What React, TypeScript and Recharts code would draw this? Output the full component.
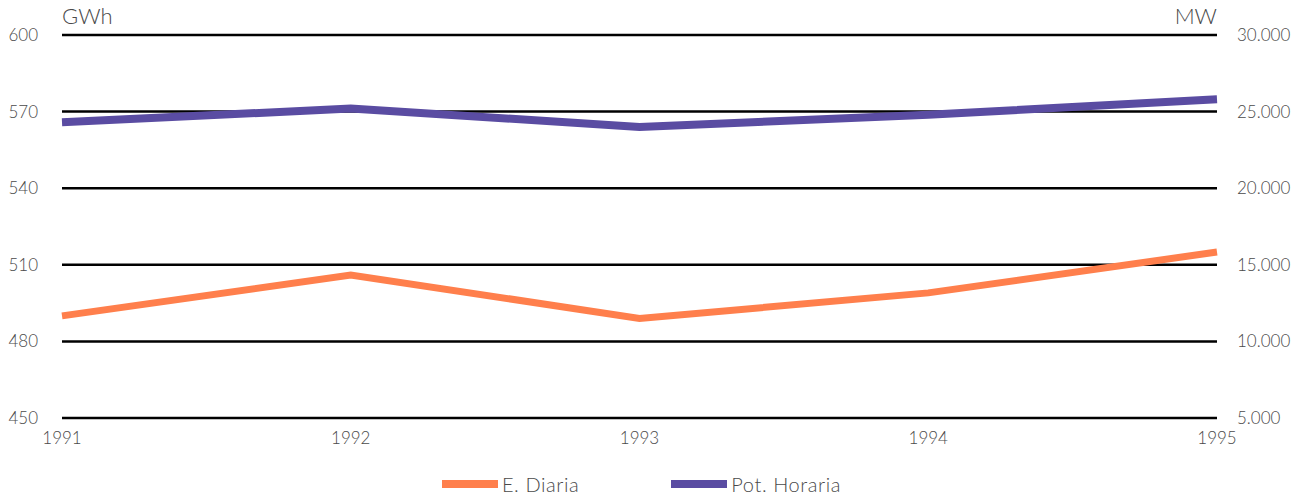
import { LineChart, Line, XAxis, YAxis, CartesianGrid, Legend } from "recharts";

const years = ["1991", "1992", "1993", "1994", "1995"];
const energiaDiaria = [490, 506, 489, 499, 515];
const potHoraria = [24300, 25200, 24000, 24800, 25800];
const leftTicks = [450, 480, 510, 540, 570, 600];
const rightTicks = [5000, 10000, 15000, 20000, 25000, 30000];

const data = years.map((year, i) => ({
  year,
  diaria: energiaDiaria[i],
  horaria: potHoraria[i],
}));

const ORANGE = "#FF7F4C";
const PURPLE = "#5A4CA2";
const FONT = "Lato, 'Open Sans', sans-serif";
const TEXT = "#4a4a4a";

const fmtMW = (v: number) => v.toLocaleString("de-DE");

const tickStyle = { fontSize: 17, fill: TEXT, fontFamily: FONT, fontWeight: 300 };

const LegendContent = () => (
  <div style={{ display: "flex", justifyContent: "center", fontFamily: FONT, fontWeight: 300, fontSize: 20, color: TEXT, letterSpacing: 0.6 }}>
    {[
      { label: "E. Diaria", color: ORANGE },
      { label: "Pot. Horaria", color: PURPLE },
    ].map((item, i) => (
      <div key={item.label} style={{ display: "flex", alignItems: "center", marginLeft: i === 0 ? 0 : 92 }}>
        <div style={{ width: 56, height: 8, background: item.color, marginRight: 4 }} />
        <span>{item.label}</span>
      </div>
    ))}
  </div>
);

export default function App() {
  return (
    <div style={{ position: "absolute", left: 0, top: 0, width: 1303, height: 502, background: "#fff" }}>
      <div style={{ position: "absolute", left: 62, top: 2, fontFamily: FONT, fontWeight: 300, fontSize: 22, color: TEXT }}>GWh</div>
      <div style={{ position: "absolute", right: 1303 - 1217, top: 2, fontFamily: FONT, fontWeight: 300, fontSize: 22, color: TEXT }}>MW</div>
      <LineChart width={1303} height={502} data={data} margin={{ top: 35, right: 0, bottom: 54, left: 0 }}>
        <CartesianGrid yAxisId="left" horizontal vertical={false} stroke="#000" strokeWidth={2.5} strokeOpacity={1} />
        <XAxis
          dataKey="year"
          axisLine={false}
          tickLine={false}
          tickSize={0}
          tickMargin={14}
          height={30}
          tick={tickStyle}
          interval={0}
        />
        <YAxis
          yAxisId="left"
          domain={[450, 600]}
          ticks={leftTicks}
          axisLine={false}
          tickLine={false}
          tickSize={0}
          tickMargin={24}
          width={62}
          tick={tickStyle}
        />
        <YAxis
          yAxisId="right"
          orientation="right"
          domain={[5000, 30000]}
          ticks={rightTicks}
          tickFormatter={fmtMW}
          axisLine={false}
          tickLine={false}
          tickSize={0}
          tickMargin={20}
          width={86}
          tick={tickStyle}
        />
        <Legend
          layout="horizontal"
          verticalAlign="middle"
          align="center"
          content={LegendContent}
          wrapperStyle={{ top: 472, left: -10, width: 1303 }}
        />
        <Line yAxisId="left" dataKey="diaria" name="E. Diaria" stroke={ORANGE} strokeWidth={7} dot={false} activeDot={false} isAnimationActive={false} />
        <Line yAxisId="right" dataKey="horaria" name="Pot. Horaria" stroke={PURPLE} strokeWidth={8} dot={false} activeDot={false} isAnimationActive={false} />
      </LineChart>
    </div>
  );
}
